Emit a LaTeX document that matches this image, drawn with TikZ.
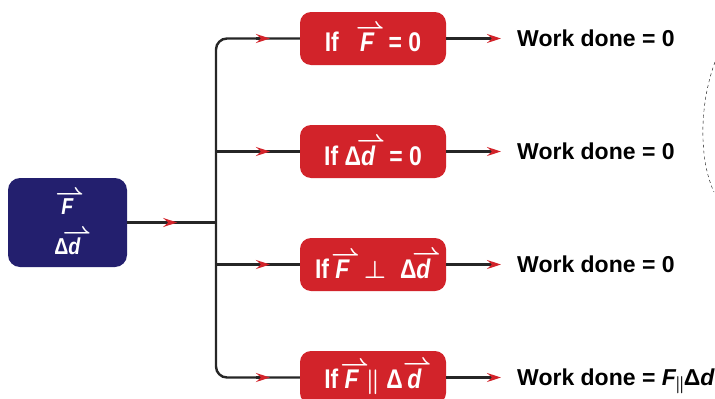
\documentclass[tikz,border=0pt]{standalone}
\usepackage{fontspec}
\setmainfont{Liberation Sans}
\newfontfamily\condfont{Liberation Sans}[FakeStretch=0.85]
\usetikzlibrary{arrows.meta,calc}
\definecolor{navy}{RGB}{35,31,110}
\definecolor{brickred}{RGB}{210,35,42}
\newcommand{\harp}[1]{\leavevmode\vbox{\offinterlineskip\halign{##\cr
  \hidewidth\kern0.2em$\rightharpoonup$\hidewidth\cr\noalign{\kern-1.5pt}#1\cr}}}
\newcommand{\vecF}{\harp{\textit{F}}}
\newcommand{\vecd}{\harp{\textit{d}}}
\tikzset{
  link/.style={line width=2.4pt, draw=black!85},
  redtip/.style={-{Stealth[brickred,length=14pt,width=9pt,inset=5pt]}},
  srcbox/.style={fill=navy, rounded corners=12pt, minimum width=119pt,
    minimum height=89pt, text=white, align=center,
    font=\condfont\bfseries\boldmath\fontsize{23}{26}\selectfont},
  condbox/.style={fill=brickred, rounded corners=11pt, minimum width=146pt,
    minimum height=53pt, text=white, inner xsep=2pt,
    font=\condfont\bfseries\boldmath\fontsize{27}{30}\selectfont},
  result/.style={anchor=west, inner sep=0pt, text height=17pt, text depth=5pt,
    font=\bfseries\boldmath\fontsize{23}{26}\selectfont}
}
\begin{document}
\begin{tikzpicture}[x=1pt,y=-1pt]
\useasboundingbox (0,0) rectangle (715,399);
% source and split point
\node[srcbox] (src) at (67.5,222.5) {\vecF\\[14pt]Δ\vecd};
\coordinate (split) at (216,222.5);
% conditions
\node[condbox] (c1) at (373,38.5) {If\;\; \vecF\; = 0};
\node[condbox] (c2) at (373,151.5) {If Δ\vecd\; = 0};
\node[condbox] (c3) at (373,264.5) {If \vecF\; $\perp$\; Δ\vecd};
\node[condbox] (c4) at (373,377.5) {If \vecF{} $\parallel$ Δ\,\vecd};
% results
\node[result] (w1) at (517,40.5) {Work done = 0};
\node[result] (w2) at (517,153.5) {Work done = 0};
\node[result] (w3) at (517,266.5) {Work done = 0};
\node[result] (w4) at (517,379.5) {Work done = \textit{F}\kern-1.5pt$_{\parallel}$\kern-1.5ptΔ\textit{d}};
% tree
\draw[link] (src.east) -- (split);
\draw[link, redtip] ($(src.east)+(36,0)$) -- ++(14,0);
\draw[link, rounded corners=11pt] (c1) -| (split) |- (c4);
\draw[link] (split|-c2) -- (c2);
\draw[link] (split|-c3) -- (c3);
\foreach \i in {1,...,4}{
  \draw[link, redtip] ($(split|-c\i)+(40,0)$) -- ++(14,0);
  \draw[link, redtip, shorten >=16pt] (c\i.east) -- (c\i.east-|w\i.west);
}
% dashed outline at the right edge
\draw[dashed, thin] (715,62) .. controls (699,105) and (699,160) .. (714,192);
\end{tikzpicture}
\end{document}
